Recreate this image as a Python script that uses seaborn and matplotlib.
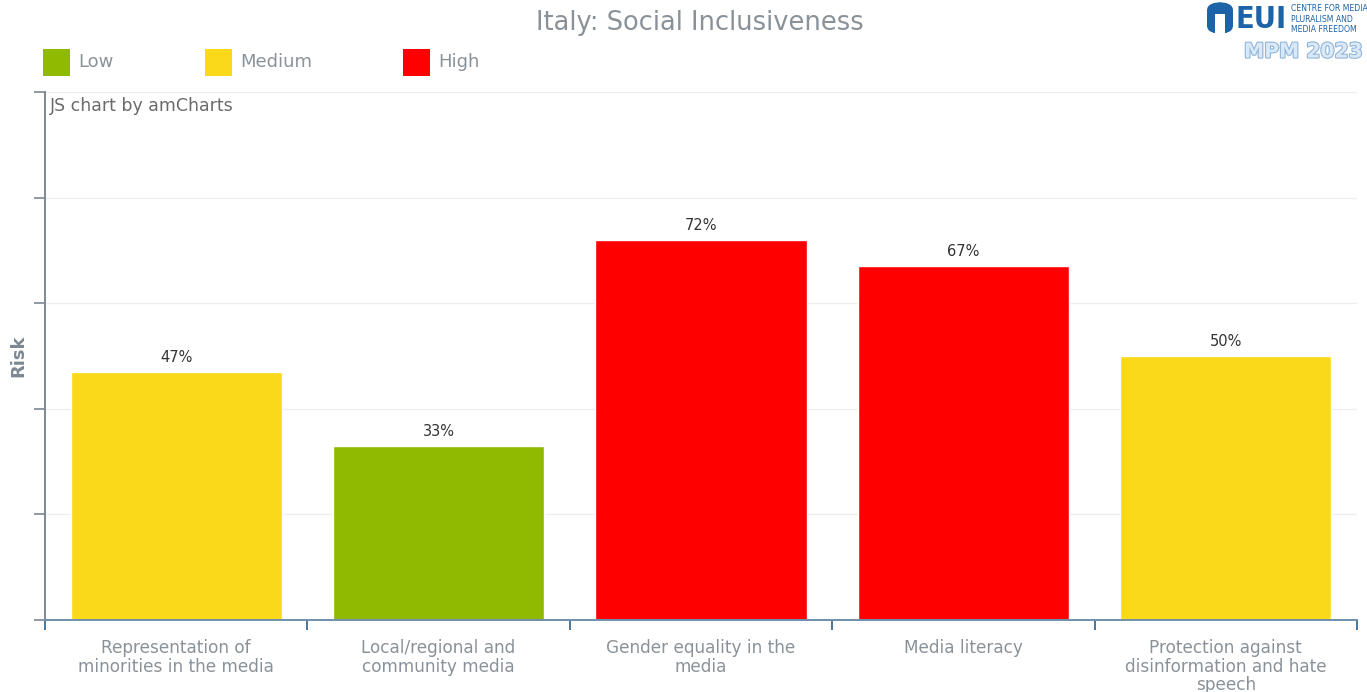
import matplotlib
matplotlib.use("Agg")
import matplotlib.pyplot as plt
import matplotlib.patheffects as pe
from matplotlib.patches import Rectangle, FancyBboxPatch
import numpy as np
import pandas as pd
import seaborn as sns

# Indicator data
categories = [
    "Representation of\nminorities in the media",
    "Local/regional and\ncommunity media",
    "Gender equality in the\nmedia",
    "Media literacy",
    "Protection against\ndisinformation and hate\nspeech",
]
risk_values = [47, 33, 72, 67, 50]
risk_levels = ["Medium", "Low", "High", "High", "Medium"]

level_names = ["Low", "Medium", "High"]
level_colors = {"Low": "#8fba00", "Medium": "#fad91a", "High": "#ff0000"}

df = pd.DataFrame({"category": categories, "risk": risk_values, "level": risk_levels})

sns.set_theme(style="white")
plt.rcParams["font.family"] = ["DejaVu Sans"]

W, H = 1367, 692
fig = plt.figure(figsize=(W / 100, H / 100), dpi=100)
fig.patch.set_facecolor("white")

# plot area in pixel coordinates
x0, x1, ytop, ybot = 45, 1357, 92, 620
ax = fig.add_axes([x0 / W, (H - ybot) / H, (x1 - x0) / W, (ybot - ytop) / H])

sns.barplot(data=df, x="category", y="risk", hue="level", palette=level_colors,
            hue_order=level_names, order=categories, dodge=False, width=0.805,
            saturation=1, legend=False, ax=ax)

ax.set_xlim(-0.5, len(categories) - 0.5)
ax.set_ylim(0, 100)

# gridlines
ax.set_yticks([0, 20, 40, 60, 80, 100])
ax.set_yticklabels([])
ax.yaxis.grid(True, color="#eeeeee", linewidth=0.9)
ax.set_axisbelow(True)
ax.tick_params(axis="y", left=True, length=8, width=1.2, color="#7d8893", pad=2)

# category boundaries ticks
ax.set_xticks(np.arange(len(categories)))
ax.set_xticklabels(categories, color="#8a9299", fontsize=12.2, linespacing=1.02)
ax.set_xticks(np.arange(len(categories) + 1) - 0.5, minor=True)
ax.tick_params(axis="x", which="major", length=0, pad=14)
ax.tick_params(axis="x", which="minor", bottom=True, length=7, width=1.3, color="#3d6a93")

for side in ["top", "right"]:
    ax.spines[side].set_visible(False)
ax.spines["left"].set_color("#7d8893")
ax.spines["left"].set_linewidth(1.4)
ax.spines["bottom"].set_color("#6f90ad")
ax.spines["bottom"].set_linewidth(1.4)

ax.set_xlabel("")
ax.set_ylabel("")

# value labels
for i, v in enumerate(risk_values):
    ax.annotate(f"{v}%", (i, v), xytext=(0, 5), textcoords="offset points",
                ha="center", va="bottom", fontsize=10.5, color="#333333")

# Axis title
fig.text(18 / W, 1 - 356 / H, "Risk", rotation=90, ha="center", va="center",
         fontsize=13, fontweight="bold", color="#7d8893")

# attribution inside plot area
fig.text(50 / W, 1 - 106 / H, "JS chart by amCharts", ha="left", va="center",
         fontsize=12.5, color="#6b6b6b")

# chart title
fig.text(700 / W, 1 - 23 / H, "Italy: Social Inclusiveness", ha="center", va="center",
         fontsize=18.5, color="#8a9299")

# legend
legend_x = [43, 205, 403]
for name, lx in zip(level_names, legend_x):
    fig.add_artist(Rectangle((lx / W, 1 - 76 / H), 27 / W, 27 / H, transform=fig.transFigure,
                             facecolor=level_colors[name], edgecolor="none"))
    fig.text((lx + 35) / W, 1 - 62 / H, name, ha="left", va="center",
             fontsize=13, color="#8a9299")

# EUI emblem
blue = "#1c63a8"
fig.add_artist(FancyBboxPatch((1207 / W, 1 - 34 / H), 26 / W, 32 / H,
                              boxstyle="round,pad=0,rounding_size=0.012",
                              transform=fig.transFigure, facecolor=blue, edgecolor="none"))
fig.add_artist(Rectangle((1215 / W, 1 - 34 / H), 10 / W, 20 / H, transform=fig.transFigure,
                         facecolor="white", edgecolor="none"))
fig.text(1236 / W, 1 - 19 / H, "EUI", ha="left", va="center", fontsize=22,
         fontweight="bold", fontstretch="condensed", color=blue)
fig.text(1291 / W, 1 - 19 / H, "CENTRE FOR MEDIA\nPLURALISM AND\nMEDIA FREEDOM",
         ha="left", va="center", fontsize=5.6, color=blue, linespacing=1.15)
fig.text(1244 / W, 1 - 52 / H, "MPM 2023", ha="left", va="center", fontsize=14.6,
         fontweight="bold", color="#dbe8f5",
         path_effects=[pe.withStroke(linewidth=1.6, foreground="#8fb5da")])

fig.savefig("out.png", dpi=100)
